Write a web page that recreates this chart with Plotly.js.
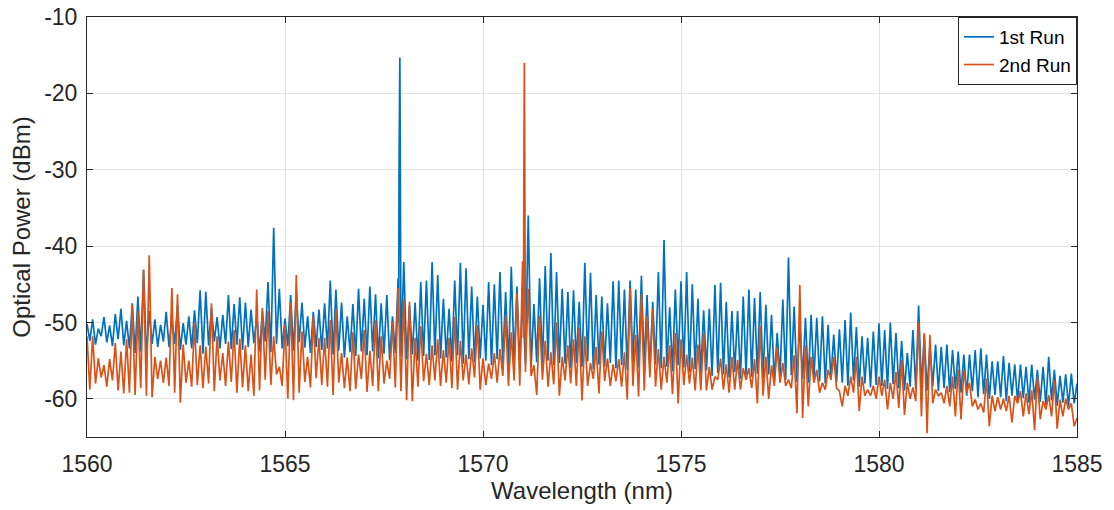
<!DOCTYPE html>
<html>
<head>
<meta charset="utf-8">
<script src="https://cdn.plot.ly/plotly-3.0.1.min.js"></script>
<style>
  html, body { margin: 0; padding: 0; background: #ffffff; }
  #chart { width: 1114px; height: 510px; }
</style>
</head>
<body>
<div id="chart"></div>
<script>
// ---- Data (values in dBm) ----
// Spectrum sampled on a grid starting at 1560 nm, 14 samples per nm,
// alternating local maxima (peaks) and local minima (troughs).
const gridStart = 1560;
const samplesPerNm = 14;
const gridEnd = 1585;

const seriesNames = ["1st Run", "2nd Run"];

// 1st Run (blue)
const run1Peaks = [
  -50.2,-49.6,-50.8,-49.3,-50.4,-48.9,-48.2,
  -49.8,-47.5,-46.6,-43.1,-48.5,-49.6,-50.3,
  -48.6,-49.5,-47.7,-50.1,-49.2,-48.4,-45.8,
  -46.0,-48.1,-49.3,-49.0,-46.4,-47.6,-46.7,
  -47.4,-48.3,-49.2,-48.5,-44.7,-37.6,-45.6,
  -49.5,-46.4,-46.0,-47.4,-49.2,-48.6,-48.3,
  -47.5,-44.5,-45.7,-47.4,-49.2,-47.6,-45.6,
  -46.9,-45.3,-46.3,-47.5,-46.4,-49.2,-44.2,
  -42.1,-47.8,-47.4,-44.7,-44.5,-42.1,-43.8,
  -46.9,-48.2,-44.5,-42.2,-42.9,-45.3,-46.6,
  -47.7,-44.7,-45.0,-43.4,-46.0,-42.7,-45.3,
  -47.0,-36.0,-47.6,-44.2,-42.6,-40.9,-43.4,
  -45.6,-46.0,-45.8,-47.3,-42.2,-43.5,-46.4,
  -46.6,-47.5,-44.6,-44.5,-45.7,-44.5,-45.7,
  -43.9,-46.4,-47.3,-43.4,-39.2,-48.0,-45.7,
  -44.6,-43.4,-45.0,-46.9,-48.4,-48.2,-45.1,
  -44.8,-47.3,-48.5,-48.5,-46.6,-45.7,-46.8,
  -46.0,-47.7,-49.0,-51.4,-47.0,-41.5,-47.9,
  -50.1,-49.4,-49.0,-49.4,-49.2,-50.3,-51.6,
  -50.9,-49.7,-48.7,-50.6,-51.8,-52.0,-51.2,
  -50.1,-51.0,-50.0,-51.4,-52.4,-54.0,-51.0,
  -47.8,-51.6,-53.0,-52.9,-53.2,-52.9,-53.6,
  -53.8,-54.2,-54.2,-53.6,-53.4,-54.2,-55.1,
  -55.1,-54.4,-55.3,-55.5,-55.5,-55.8,-55.5,
  -56.2,-55.8,-54.5,-56.2,-57.0,-56.8,-56.7
];
const run1Troughs = [
  -52.4,-52.9,-51.8,-52.6,-53.1,-52.2,-53.0,
  -53.4,-54.0,-53.8,-54.5,-52.8,-53.2,-52.5,
  -53.2,-52.8,-53.6,-52.9,-53.4,-52.7,-54.1,
  -53.0,-52.5,-53.4,-52.8,-53.5,-52.9,-53.6,
  -53.2,-52.7,-53.8,-52.5,-53.9,-52.8,-53.4,
  -53.1,-53.7,-52.6,-53.3,-54.0,-53.2,-53.6,
  -53.4,-54.2,-53.7,-54.6,-53.9,-54.4,-53.8,
  -54.3,-53.8,-54.7,-54.1,-54.9,-54.0,-54.5,
  -54.8,-54.2,-55.0,-54.4,-54.9,-54.3,-54.7,
  -54.6,-55.1,-54.3,-55.4,-54.8,-55.2,-54.7,
  -55.0,-55.6,-54.8,-55.3,-55.8,-55.1,-55.5,
  -55.4,-55.9,-55.2,-55.7,-55.0,-55.6,-55.3,
  -55.4,-56.0,-55.3,-55.8,-55.1,-56.1,-55.5,
  -55.8,-55.3,-56.0,-55.6,-56.2,-55.4,-55.9,
  -55.7,-56.3,-55.5,-56.0,-55.8,-56.4,-55.6,
  -55.9,-56.5,-56.1,-56.7,-56.3,-57.0,-56.6,
  -56.8,-57.2,-56.5,-57.4,-56.9,-57.1,-56.7,
  -57.3,-56.8,-57.6,-57.0,-57.5,-56.9,-57.8,
  -57.4,-57.9,-57.2,-57.7,-58.0,-57.5,-57.8,
  -57.9,-58.3,-57.6,-58.4,-58.0,-58.5,-58.2,
  -58.3,-58.7,-58.1,-58.6,-58.9,-58.4,-58.8,
  -58.5,-58.9,-58.3,-59.0,-58.6,-59.1,-58.7,
  -59.2,-59.6,-59.0,-59.8,-59.4,-60.0,-59.5,
  -59.8,-60.3,-59.6,-60.4,-59.9,-60.5,-60.1,
  -60.4,-60.8,-60.2,-60.9,-60.5,-61.0,-60.6
];
const run1End = -58.0;
// lasing line of the 1st run
const run1LineWl  = [1567.87, 1567.88, 1567.89, 1567.90, 1567.91, 1567.92];
const run1LineDbm = [-50.0, -30.0, -16.5, -15.3, -26.8, -52.0];

// 2nd Run (orange)
const run2Peaks = [
  -51.8,-51.8,-54.7,-55.6,-54.8,-52.7,-53.8,
  -52.2,-47.7,-48.5,-43.1,-41.2,-54.5,-55.0,
  -54.6,-45.5,-46.3,-52.9,-55.0,-50.1,-53.0,
  -53.2,-47.5,-51.8,-54.0,-52.5,-51.0,-52.1,
  -53.0,-54.2,-45.7,-48.1,-48.5,-51.8,-55.8,
  -50.3,-47.4,-43.8,-51.2,-54.5,-49.2,-52.0,
  -52.0,-49.7,-48.2,-54.0,-54.6,-51.3,-54.2,
  -51.0,-53.7,-49.7,-51.8,-55.0,-49.9,-45.5,
  -47.0,-47.3,-52.0,-50.5,-54.1,-53.0,-52.2,
  -53.6,-52.0,-49.3,-52.4,-54.2,-53.4,-50.3,
  -54.7,-55.4,-54.0,-53.5,-49.1,-51.3,-46.2,
  -42.0,-45.6,-55.6,-49.1,-52.4,-53.9,-50.0,
  -54.5,-53.0,-52.2,-50.7,-51.8,-55.3,-53.2,
  -51.2,-54.7,-55.5,-54.8,-53.9,-45.5,-51.6,
  -46.3,-49.2,-48.2,-53.5,-54.5,-53.0,-51.4,
  -52.2,-54.2,-54.6,-52.9,-51.4,-55.8,-57.1,
  -54.7,-55.5,-54.5,-54.9,-56.0,-56.0,-54.8,
  -50.5,-54.5,-55.6,-53.2,-55.3,-57.5,-54.3,
  -45.1,-53.0,-54.5,-56.2,-57.9,-56.2,-54.5,
  -59.0,-58.3,-57.1,-54.5,-57.1,-58.8,-58.3,
  -57.1,-57.5,-57.9,-56.5,-54.9,-57.9,-58.5,
  -50.0,-51.4,-51.6,-58.8,-59.2,-58.3,-57.1,
  -56.2,-56.2,-57.9,-60.1,-60.6,-57.3,-59.6,
  -59.8,-60.0,-59.6,-59.6,-59.0,-59.3,-58.9,
  -57.1,-60.3,-59.5,-57.5,-60.1,-60.0,-60.6
];
const run2Troughs = [
  -58.8,-58.0,-57.2,-58.4,-57.6,-58.9,-59.3,
  -59.2,-59.5,-58.6,-59.6,-59.8,-57.4,-57.9,
  -58.3,-59.2,-60.5,-57.9,-58.4,-58.2,-58.6,
  -58.0,-59.0,-57.6,-58.3,-57.8,-59.2,-58.5,
  -59.0,-59.6,-58.9,-57.5,-58.2,-56.8,-58.3,
  -60.0,-60.2,-59.2,-57.8,-58.5,-57.3,-58.2,
  -58.4,-59.5,-57.9,-58.6,-59.0,-58.7,-57.4,
  -59.1,-58.3,-59.0,-58.0,-57.4,-58.5,-59.0,
  -60.2,-60.3,-58.4,-57.7,-58.2,-57.6,-58.3,
  -57.9,-58.6,-58.8,-57.6,-58.1,-57.2,-58.8,
  -58.2,-57.4,-57.9,-57.0,-58.3,-57.6,-58.3,
  -56.5,-57.0,-59.5,-57.5,-58.4,-58.1,-59.6,
  -57.6,-58.0,-58.3,-60.2,-58.3,-57.4,-59.3,
  -57.7,-58.3,-57.7,-58.4,-60.1,-58.3,-59.7,
  -58.9,-57.2,-58.4,-58.8,-57.9,-59.4,-60.6,
  -58.2,-58.0,-58.9,-58.9,-58.9,-58.8,-57.5,
  -58.8,-59.2,-58.8,-58.8,-57.5,-58.6,-60.6,
  -59.6,-60.0,-58.3,-57.9,-58.3,-58.6,-61.9,
  -62.5,-61.0,-57.9,-59.2,-58.8,-57.5,-58.6,
  -61.0,-59.6,-59.2,-61.6,-59.6,-59.6,-60.0,
  -59.6,-61.4,-60.0,-61.2,-62.1,-60.0,-60.3,
  -62.3,-64.5,-60.6,-59.6,-60.6,-61.0,-62.3,
  -62.7,-59.2,-61.0,-61.4,-61.8,-63.6,-61.6,
  -61.4,-61.6,-63.1,-60.6,-62.3,-62.0,-64.1,
  -62.7,-61.4,-62.3,-63.9,-62.3,-61.4,-63.6
];
const run2End = -62.5;
// lasing line of the 2nd run
const run2LineWl  = [1571.02, 1571.035, 1571.045, 1571.055, 1571.065];
const run2LineDbm = [-52.0, -25.5, -16.0, -28.7, -50.0];

const xTicks = [1560, 1565, 1570, 1575, 1580, 1585];
const yTicks = [-60, -50, -40, -30, -20, -10];
const yTickText = ["-60", "-50", "-40", "-30", "-20", "-10"];

// ---- Build traces ----
function buildSeries(peaks, troughs, endVal, lineWl, lineDbm) {
  const pts = [];
  for (let k = 0; k < peaks.length; k++) {
    pts.push([gridStart + (2 * k) / samplesPerNm, peaks[k]]);
    pts.push([gridStart + (2 * k + 1) / samplesPerNm, troughs[k]]);
  }
  pts.push([gridEnd, endVal]);
  lineWl.forEach((w, i) => pts.push([w, lineDbm[i]]));
  pts.sort((a, b) => a[0] - b[0]);
  return { x: pts.map(p => p[0]), y: pts.map(p => p[1]) };
}

const s1 = buildSeries(run1Peaks, run1Troughs, run1End, run1LineWl, run1LineDbm);
const s2 = buildSeries(run2Peaks, run2Troughs, run2End, run2LineWl, run2LineDbm);

const traces = [
  { x: s1.x, y: s1.y, type: "scatter", mode: "lines", name: seriesNames[0],
    line: { color: "#0072BD", width: 1.7 } },
  { x: s2.x, y: s2.y, type: "scatter", mode: "lines", name: seriesNames[1],
    line: { color: "#D95319", width: 1.7 } }
];

const axisCommon = {
  showline: true, linecolor: "#262626", linewidth: 1, mirror: "ticks",
  ticks: "inside", ticklen: 6, tickcolor: "#262626", tickwidth: 1,
  showgrid: true, gridcolor: "#e2e2e2", gridwidth: 1, zeroline: false,
  tickfont: { size: 23, color: "#262626" }
};

const layout = {
  width: 1114, height: 510,
  margin: { l: 87, r: 37, t: 17, b: 73, pad: 0 },
  paper_bgcolor: "#ffffff", plot_bgcolor: "#ffffff",
  font: { family: "Arial, 'Liberation Sans', sans-serif", color: "#262626" },
  showlegend: true,
  xaxis: Object.assign({}, axisCommon, {
    range: [1560, 1585], tickvals: xTicks, ticklabelstandoff: 6,
    title: { text: "Wavelength (nm)", font: { size: 24, color: "#262626" }, standoff: 6 }
  }),
  yaxis: Object.assign({}, axisCommon, {
    range: [-65, -10], tickvals: yTicks, ticktext: yTickText, ticklabelstandoff: 4,
    title: { text: "Optical Power (dBm)", font: { size: 24, color: "#262626" }, standoff: 6 }
  }),
  legend: {
    x: 1, y: 1, xanchor: "right", yanchor: "top",
    bgcolor: "#ffffff", bordercolor: "#262626", borderwidth: 1,
    font: { size: 19, color: "#000000" }, itemwidth: 30, tracegroupgap: 0
  }
};

Plotly.newPlot("chart", traces, layout, { displayModeBar: false, staticPlot: true });
</script>
</body>
</html>
